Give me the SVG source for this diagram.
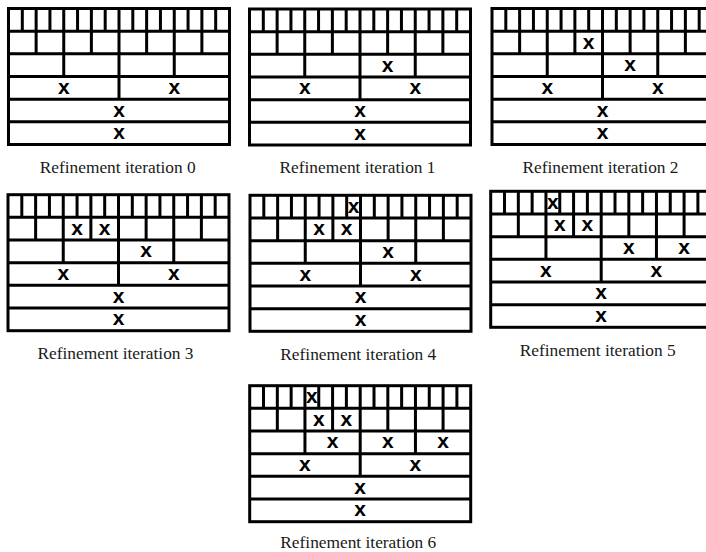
<svg xmlns="http://www.w3.org/2000/svg" xmlns:xlink="http://www.w3.org/1999/xlink" width="706" height="552" viewBox="0 0 706 552">
<style>
.grid{fill:none;stroke:#000;stroke-width:3;stroke-linejoin:miter}
.x{font-family:"Liberation Sans",Arial,sans-serif;font-weight:bold;font-size:21px;fill:#000;text-anchor:middle}
.lbl{font-family:"Liberation Serif","Times New Roman",serif;font-size:17.5px;fill:#1a1a1a;text-anchor:middle}
</style>
<defs>
<g id="grid">
<rect class="grid" x="0" y="0" width="221" height="136"/>
<path class="grid" d="M0 22.67H221M0 45.33H221M0 68H221M0 90.67H221M0 113.33H221
M110.5 0V90.67
M55.25 0V68M165.75 0V68
M27.63 0V45.33M82.88 0V45.33M138.13 0V45.33M193.38 0V45.33
M13.81 0V22.67M41.44 0V22.67M69.06 0V22.67M96.69 0V22.67M124.31 0V22.67M151.94 0V22.67M179.56 0V22.67M207.19 0V22.67"/>
</g>
<g id="base">
<text class="x" x="55.25" y="85.4">x</text>
<text class="x" x="165.75" y="85.4">x</text>
<text class="x" x="110.5" y="108">x</text>
<text class="x" x="110.5" y="130.7">x</text>
</g>
</defs>
<g id="connectors"/>
<g id="panel0">
<g transform="translate(8.5,8.5)">
<use xlink:href="#grid"/>
<use xlink:href="#base"/>
</g>
<text class="lbl" x="117.7" y="172.5" textLength="156" lengthAdjust="spacingAndGlyphs">Refinement iteration 0</text>
</g>
<g id="panel1">
<g transform="translate(249.5,9)">
<use xlink:href="#grid"/>
<use xlink:href="#base"/>
<text class="x" x="138.13" y="62.7">x</text>
</g>
<text class="lbl" x="357.5" y="173" textLength="156" lengthAdjust="spacingAndGlyphs">Refinement iteration 1</text>
</g>
<g id="panel2">
<g transform="translate(492,8.5)">
<use xlink:href="#grid"/>
<use xlink:href="#base"/>
<text class="x" x="138.13" y="62.7">x</text>
<text class="x" x="96.69" y="40">x</text>
</g>
<text class="lbl" x="600.5" y="173" textLength="156" lengthAdjust="spacingAndGlyphs">Refinement iteration 2</text>
</g>
<g id="panel3">
<g transform="translate(8,194.7)">
<use xlink:href="#grid"/>
<use xlink:href="#base"/>
<text class="x" x="138.13" y="62.7">x</text>
<text class="x" x="69.06" y="40">x</text>
<text class="x" x="96.69" y="40">x</text>
</g>
<text class="lbl" x="115.5" y="359" textLength="156" lengthAdjust="spacingAndGlyphs">Refinement iteration 3</text>
</g>
<g id="panel4">
<g transform="translate(250,195.3)">
<use xlink:href="#grid"/>
<use xlink:href="#base"/>
<text class="x" x="138.13" y="62.7">x</text>
<text class="x" x="69.06" y="40">x</text>
<text class="x" x="96.69" y="40">x</text>
<text class="x" x="103.6" y="17.5">x</text>
</g>
<text class="lbl" x="358.3" y="359.5" textLength="156" lengthAdjust="spacingAndGlyphs">Refinement iteration 4</text>
</g>
<g id="panel5">
<g transform="translate(490.7,191.3)">
<use xlink:href="#grid"/>
<use xlink:href="#base"/>
<text class="x" x="138.13" y="62.7">x</text>
<text class="x" x="193.38" y="62.7">x</text>
<text class="x" x="69.06" y="40">x</text>
<text class="x" x="96.69" y="40">x</text>
<text class="x" x="62.16" y="17.5">x</text>
</g>
<text class="lbl" x="597.7" y="356" textLength="156" lengthAdjust="spacingAndGlyphs">Refinement iteration 5</text>
</g>
<g id="panel6">
<g transform="translate(249.7,385.7)">
<use xlink:href="#grid"/>
<use xlink:href="#base"/>
<text class="x" x="82.88" y="62.7">x</text>
<text class="x" x="138.13" y="62.7">x</text>
<text class="x" x="193.38" y="62.7">x</text>
<text class="x" x="69.06" y="40">x</text>
<text class="x" x="96.69" y="40">x</text>
<text class="x" x="62.16" y="17.5">x</text>
</g>
<text class="lbl" x="358.3" y="547.5" textLength="156" lengthAdjust="spacingAndGlyphs">Refinement iteration 6</text>
</g>
</svg>
